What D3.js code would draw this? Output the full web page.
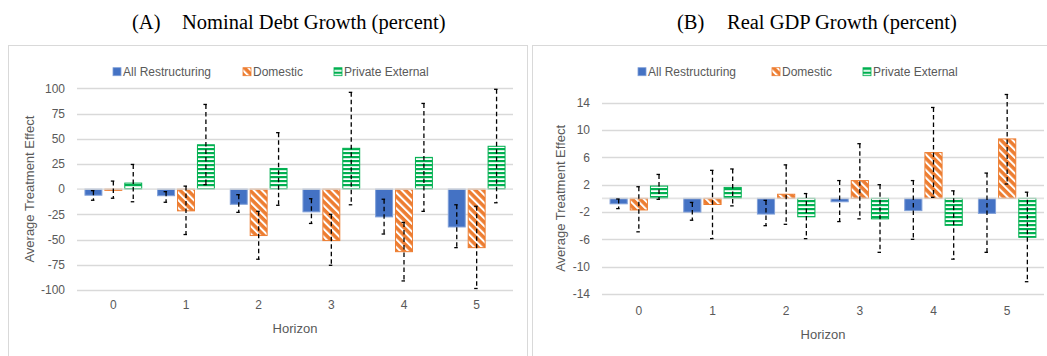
<!DOCTYPE html>
<html>
<head>
<meta charset="utf-8">
<script src="https://cdn.jsdelivr.net/npm/d3@7"></script>
<style>
  html, body { margin: 0; padding: 0; background: #fff; }
  svg { display: block; }
</style>
</head>
<body>
<svg id="chart" width="1047" height="356"></svg>
<script>
// ---------- DATA ----------
const horizons = ["0", "1", "2", "3", "4", "5"];
const seriesNames = ["All Restructuring", "Domestic", "Private External"];

// Panel A: Nominal Debt Growth (percent)
const debtTicks = [100, 75, 50, 25, 0, -25, -50, -75, -100];
const debtAll = [-6, -6.5, -15, -22.5, -27.5, -37.5];
const debtAllLow = [-11, -13, -23, -34, -44.5, -58];
const debtAllHigh = [-1.5, -2.5, -5.5, -9.5, -10, -15.5];
const debtDom = [-1.2, -21.5, -46, -51, -62, -58];
const debtDomLow = [-9, -45, -69.5, -75.5, -91, -98.5];
const debtDomHigh = [8, 3, -22, -25, -33, -17];
const debtPriv = [6, 44, 20.5, 40.5, 31.5, 42.5];
const debtPrivLow = [-12.5, 4.5, -16, -15.5, -22, -13.5];
const debtPrivHigh = [24.5, 84, 56, 96, 85, 99];

// Panel B: Real GDP Growth (percent)
const gdpTicks = [14, 10, 6, 2, -2, -6, -10, -14];
const gdpAll = [-0.8, -2.0, -2.3, -0.5, -1.8, -2.2];
const gdpAllLow = [-1.5, -3.2, -4.0, -3.4, -6.0, -7.9];
const gdpAllHigh = [-0.1, -0.6, -0.3, 2.6, 2.6, 3.7];
const gdpDom = [-1.7, -0.9, 0.6, 2.6, 6.7, 8.7];
const gdpDomLow = [-4.9, -5.9, -3.8, -3.0, 0.15, 2.1];
const gdpDomHigh = [1.7, 4.1, 4.9, 8.0, 13.3, 15.2];
const gdpPriv = [1.8, 1.6, -2.7, -3.0, -3.95, -5.7];
const gdpPrivLow = [-0.15, -1.1, -5.9, -7.9, -8.9, -12.2];
const gdpPrivHigh = [3.5, 4.3, 0.7, 2.0, 1.1, 0.9];

// ---------- STYLE ----------
const BLUE = "#4472C4", ORANGE = "#ED7D31", GREEN = "#00B050";
const GRID = "#D9D9D9", TXT = "#595959";
const FONT = "'Liberation Sans', Arial, sans-serif";
const TITLE_FONT = "'Liberation Serif', 'Times New Roman', serif";

const svg = d3.select("#chart");
const defs = svg.append("defs");

// Orange wide diagonal hatch
const pd = defs.append("pattern").attr("id", "hatchOrange")
  .attr("patternUnits", "userSpaceOnUse").attr("width", 5.5).attr("height", 5.5)
  .attr("patternTransform", "rotate(-45)");
pd.append("rect").attr("width", 5.5).attr("height", 5.5).attr("fill", ORANGE);
pd.append("rect").attr("width", 2).attr("height", 5.5).attr("fill", "#fff");

// Green horizontal stripes
const pg = defs.append("pattern").attr("id", "hatchGreen")
  .attr("patternUnits", "userSpaceOnUse").attr("width", 4).attr("height", 4);
pg.append("rect").attr("width", 4).attr("height", 4).attr("fill", "#fff");
pg.append("rect").attr("width", 4).attr("height", 2.2).attr("fill", GREEN);

const seriesStyle = [
  { fill: BLUE, stroke: "#7F9FD8", legendFill: BLUE },
  { fill: "url(#hatchOrange)", stroke: ORANGE, legendFill: "url(#hatchOrange)" },
  { fill: "url(#hatchGreen)", stroke: GREEN, legendFill: "url(#hatchGreen)" }
];

function drawPanel(cfg) {
  const g = svg.append("g");

  // panel frame
  g.append("rect")
    .attr("x", cfg.frameX + 0.5).attr("y", 45.5)
    .attr("width", cfg.frameW).attr("height", 330)
    .attr("fill", "#fff").attr("stroke", GRID).attr("stroke-width", 1);

  // title
  g.append("text").attr("x", cfg.titleX).attr("y", 29)
    .attr("font-family", TITLE_FONT).attr("font-size", 20.5).attr("fill", "#000")
    .text(cfg.titleTag);
  g.append("text").attr("x", cfg.titleX + 50).attr("y", 29)
    .attr("font-family", TITLE_FONT).attr("font-size", 20.5).attr("fill", "#000")
    .text(cfg.title);

  const x0 = d3.scaleBand().domain(horizons).range([cfg.left, cfg.right]).padding(0);
  const x1 = d3.scaleBand().domain(seriesNames).range([0, x0.bandwidth()])
    .paddingInner(0.15).paddingOuter(0.4);
  const y = d3.scaleLinear().domain(cfg.domain).range([cfg.bottom, cfg.top]);

  // gridlines
  g.append("g").selectAll("line").data(cfg.ticks.filter(t => t !== 0)).join("line")
    .attr("x1", cfg.left).attr("x2", cfg.right)
    .attr("y1", d => Math.round(y(d)) + 0.5).attr("y2", d => Math.round(y(d)) + 0.5)
    .attr("stroke", GRID).attr("stroke-width", 1.3);

  // y tick labels via axis (plain hyphen minus, as in the original)
  const yAxis = d3.axisLeft(y).tickValues(cfg.ticks).tickSize(0).tickPadding(12)
    .tickFormat(d => String(d));
  const ya = g.append("g").attr("transform", `translate(${cfg.left},0)`).call(yAxis);
  ya.select(".domain").remove();
  ya.selectAll("text").attr("font-family", FONT).attr("font-size", 12).attr("fill", TXT);

  // x tick labels via axis
  const xAxis = d3.axisBottom(x0).tickSize(0).tickPadding(cfg.xPad);
  const xa = g.append("g").attr("transform", `translate(0,${cfg.bottom})`).call(xAxis);
  xa.select(".domain").remove();
  xa.selectAll("text").attr("font-family", FONT).attr("font-size", 12).attr("fill", TXT);

  // axis titles
  g.append("text")
    .attr("transform", `translate(${cfg.yTitleX},${(cfg.top + cfg.bottom) / 2}) rotate(-90)`)
    .attr("text-anchor", "middle").attr("dominant-baseline", "central")
    .attr("font-family", FONT).attr("font-size", 13).attr("fill", TXT)
    .text("Average Treatment Effect");
  g.append("text")
    .attr("x", (cfg.left + cfg.right) / 2).attr("y", cfg.xTitleY)
    .attr("text-anchor", "middle").attr("dominant-baseline", "central")
    .attr("font-family", FONT).attr("font-size", 13).attr("fill", TXT)
    .text("Horizon");

  // bars
  const rows = [];
  cfg.series.forEach((s, si) => {
    horizons.forEach((h, i) => {
      rows.push({ h, si, name: seriesNames[si], v: s.values[i], lo: s.low[i], hi: s.high[i] });
    });
  });

  const bars = g.append("g");
  bars.selectAll("rect").data(rows).join("rect")
    .attr("x", d => x0(d.h) + x1(d.name))
    .attr("width", x1.bandwidth())
    .attr("y", d => Math.min(y(d.v), y(0)))
    .attr("height", d => Math.max(0.8, Math.abs(y(d.v) - y(0))))
    .attr("fill", d => seriesStyle[d.si].fill)
    .attr("stroke", d => seriesStyle[d.si].stroke)
    .attr("stroke-width", 1);

  // zero axis line on top of bars
  g.append("line")
    .attr("x1", cfg.left).attr("x2", cfg.right)
    .attr("y1", y(0)).attr("y2", y(0))
    .attr("stroke", GRID).attr("stroke-width", 1.6).attr("stroke-opacity", 0.75);

  // error bars
  const eb = g.append("g");
  const cx = d => x0(d.h) + x1(d.name) + x1.bandwidth() / 2;
  eb.selectAll("line.v").data(rows).join("line").attr("class", "v")
    .attr("x1", cx).attr("x2", cx)
    .attr("y1", d => y(d.hi)).attr("y2", d => y(d.lo))
    .attr("stroke", "#000").attr("stroke-width", 1.3).attr("stroke-dasharray", "4.5,3");
  eb.selectAll("line.ch").data(rows).join("line").attr("class", "ch")
    .attr("x1", d => cx(d) - 2.5).attr("x2", d => cx(d) + 1)
    .attr("y1", d => y(d.hi)).attr("y2", d => y(d.hi))
    .attr("stroke", "#000").attr("stroke-width", 1.3);
  eb.selectAll("line.cl").data(rows).join("line").attr("class", "cl")
    .attr("x1", d => cx(d) - 2.5).attr("x2", d => cx(d) + 1)
    .attr("y1", d => y(d.lo)).attr("y2", d => y(d.lo))
    .attr("stroke", "#000").attr("stroke-width", 1.3);

  // legend
  const lg = g.append("g");
  const items = lg.selectAll("g").data(seriesNames).join("g")
    .attr("transform", (d, i) => `translate(${cfg.legendX[i]},${cfg.legendY})`);
  items.append("rect").attr("x", 0).attr("y", -4).attr("width", 8).attr("height", 8)
    .attr("fill", (d, i) => seriesStyle[i].legendFill)
    .attr("stroke", (d, i) => seriesStyle[i].stroke).attr("stroke-width", 0.8);
  items.append("text").attr("x", 10).attr("y", 0).attr("dominant-baseline", "central")
    .attr("font-family", FONT).attr("font-size", 12).attr("fill", TXT)
    .text(d => d);
}

drawPanel({
  frameX: 8, frameW: 519,
  titleX: 132, titleTag: "(A)", title: "Nominal Debt Growth (percent)",
  left: 77, right: 513, top: 88.3, bottom: 290,
  domain: [-100, 100], ticks: debtTicks,
  xPad: 10, yTitleX: 29, xTitleY: 328,
  legendX: [113, 243, 334], legendY: 71.7,
  series: [
    { values: debtAll, low: debtAllLow, high: debtAllHigh },
    { values: debtDom, low: debtDomLow, high: debtDomHigh },
    { values: debtPriv, low: debtPrivLow, high: debtPrivHigh }
  ]
});

drawPanel({
  frameX: 532, frameW: 530,
  titleX: 677, titleTag: "(B)", title: "Real GDP Growth (percent)",
  left: 602, right: 1044, top: 102.7, bottom: 294,
  domain: [-14, 14], ticks: gdpTicks,
  xPad: 12, yTitleX: 560, xTitleY: 334,
  legendX: [638, 772, 863], legendY: 71.7,
  series: [
    { values: gdpAll, low: gdpAllLow, high: gdpAllHigh },
    { values: gdpDom, low: gdpDomLow, high: gdpDomHigh },
    { values: gdpPriv, low: gdpPrivLow, high: gdpPrivHigh }
  ]
});
</script>
</body>
</html>
